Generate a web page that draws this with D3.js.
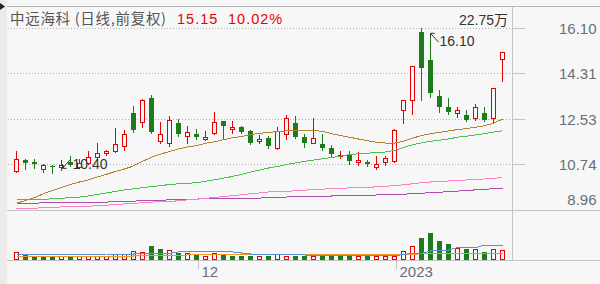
<!DOCTYPE html>
<html>
<head>
<meta charset="utf-8">
<script src="https://cdn.jsdelivr.net/npm/d3@7"></script>
<style>
  body { margin: 0; background: #f7f7f7; }
  svg { display: block; font-family: "Liberation Sans", Arial, "Noto Sans CJK SC", sans-serif; }
</style>
</head>
<body>
<svg id="chart" width="600" height="284"></svg>
<script>
// daily candles, oldest first
const openP  = [10.49,10.91,10.83,10.57,10.70,10.66,10.84,10.66,10.80,11.04,11.20,11.28,11.49,12.76,12.43,13.38,11.69,11.61,12.37,11.88,11.93,11.76,12.00,12.45,12.14,12.21,12.05,11.66,11.79,11.39,11.96,12.37,11.81,11.61,11.54,11.38,11.07,11.18,10.83,10.84,10.66,10.83,10.88,12.87,13.30,15.97,14.85,13.43,12.99,12.76,12.68,12.59,12.79,12.59,14.90];
const highP  = [11.26,10.95,10.98,10.78,10.74,10.94,11.09,10.95,11.26,11.59,11.33,12.18,12.09,13.04,13.32,13.48,12.41,12.64,12.52,12.25,12.13,12.05,12.80,12.46,12.45,12.25,12.09,11.89,11.85,12.21,12.69,12.64,11.93,12.56,11.96,11.50,11.26,11.26,11.22,10.91,11.07,11.07,12.13,13.28,14.62,16.10,15.84,13.67,13.38,13.01,12.88,13.12,12.99,13.77,15.15];
const lowP   = [10.46,10.57,10.62,10.45,10.40,10.53,10.68,10.62,10.78,10.98,11.13,11.25,11.30,12.02,12.22,11.98,11.59,11.49,11.88,11.61,11.75,11.72,11.96,11.80,12.00,11.98,11.57,11.59,11.41,11.37,11.75,11.80,11.43,11.60,11.33,11.04,11.02,10.78,10.72,10.68,10.58,10.74,10.86,12.36,12.75,13.27,13.40,12.81,12.73,12.62,12.46,12.51,12.46,12.42,14.03];
const closeP = [10.98,10.82,10.76,10.72,10.65,10.72,10.71,10.80,11.04,11.21,11.26,11.54,11.93,12.09,13.30,12.02,11.96,12.51,11.96,12.04,11.83,11.84,12.43,12.26,12.21,12.04,11.59,11.74,11.46,12.08,12.59,11.83,11.59,11.80,11.38,11.16,11.11,10.88,10.91,10.76,10.78,11.02,12.09,13.27,14.61,14.55,13.54,13.01,12.81,12.87,12.49,12.99,12.51,13.77,15.15];

// volume, in 万
const volume = [6.4,5.0,3.3,3.3,3.3,3.6,3.3,3.6,3.6,3.6,3.6,5.0,5.0,7.3,6.7,11.7,9.2,8.1,6.1,5.8,5.0,3.6,5.6,5.0,3.3,3.3,3.3,3.3,3.3,4.8,3.6,3.3,3.3,3.3,3.3,3.3,3.3,3.3,3.3,3.3,3.3,3.3,3.6,7.5,11.4,18.1,22.75,16.1,13.6,9.75,9.2,9.2,6.4,8.9,8.1];

// moving average lines
const maBrown  = [9.23,9.33,9.45,9.60,9.73,9.84,9.96,10.06,10.14,10.26,10.36,10.48,10.57,10.69,10.87,11.03,11.15,11.26,11.36,11.44,11.49,11.58,11.64,11.72,11.80,11.85,11.92,11.97,12.01,12.04,12.07,12.09,12.09,12.09,12.05,11.96,11.89,11.82,11.75,11.68,11.62,11.59,11.59,11.66,11.78,11.89,11.96,12.01,12.07,12.12,12.16,12.21,12.27,12.37,12.53];
const maGreen  = [9.36,9.36,9.37,9.38,9.40,9.42,9.45,9.47,9.51,9.57,9.63,9.69,9.75,9.79,9.84,9.88,9.92,9.96,9.99,10.01,10.03,10.09,10.15,10.21,10.28,10.36,10.45,10.53,10.61,10.67,10.75,10.81,10.87,10.92,10.97,11.02,11.08,11.14,11.17,11.19,11.22,11.24,11.30,11.42,11.52,11.60,11.66,11.70,11.75,11.82,11.86,11.91,11.96,12.02,12.07];
const maPink   = [9.00,9.02,9.03,9.05,9.06,9.08,9.09,9.10,9.11,9.13,9.15,9.17,9.20,9.22,9.25,9.27,9.29,9.30,9.32,9.36,9.38,9.42,9.45,9.49,9.52,9.56,9.60,9.63,9.67,9.68,9.70,9.71,9.74,9.76,9.78,9.80,9.81,9.83,9.84,9.85,9.87,9.89,9.92,9.95,9.99,10.03,10.06,10.09,10.10,10.12,10.14,10.16,10.18,10.21,10.23];
const maPurple = [9.23,9.23,9.23,9.24,9.24,9.25,9.25,9.25,9.26,9.27,9.27,9.29,9.30,9.31,9.32,9.33,9.34,9.36,9.37,9.38,9.39,9.40,9.40,9.40,9.41,9.42,9.42,9.43,9.44,9.45,9.47,9.48,9.49,9.50,9.51,9.51,9.52,9.53,9.53,9.54,9.55,9.55,9.56,9.58,9.60,9.62,9.64,9.66,9.68,9.70,9.73,9.75,9.77,9.80,9.82];
const volMaBlue   = [4.17,4.17,4.17,4.17,4.17,4.17,4.17,4.17,4.17,4.17,5.0,5.0,5.0,5.0,5.58,5.58,5.58,5.58,6.67,6.67,6.67,6.67,6.67,6.67,6.67,5.83,5.0,5.0,4.17,4.17,4.17,4.17,4.17,3.58,3.58,3.58,3.58,3.58,3.58,3.58,3.58,3.58,3.58,4.58,5.58,5.58,7.5,8.33,8.33,10.25,10.25,10.25,12.5,12.5,12.5];
const volMaOrange = [3.33,3.33,3.33,3.33,3.33,3.33,3.33,3.33,3.33,3.33,3.33,3.33,3.33,3.33,3.58,3.58,3.58,3.58,3.58,4.17,4.17,4.17,4.17,4.17,4.17,4.17,4.17,4.17,4.17,4.17,4.17,4.17,4.17,4.17,4.17,4.17,4.17,4.17,4.17,4.17,4.17,4.17,4.17,4.17,4.17,5.58,5.58,5.58,5.58,5.58,5.58,5.58,5.58,5.58,5.58];

const priceTicks = [16.10, 14.31, 12.53, 10.74, 8.96];
const dateTickIndex = [20, 42];
const dateTickLabels = ["12", "2023"];

const stockName = "中远海科 (日线,前复权)";

const RED = "#e60000", GREEN = "#1d7a1d", BG = "#f7f7f7", LINE = "#c4c4c4";

const svg = d3.select("#chart");
const n = closeP.length;

svg.append("rect").attr("width", 600).attr("height", 284).attr("fill", BG);
svg.append("rect").attr("width", 7).attr("height", 284).attr("fill", "#ebebeb");
svg.append("path").attr("d", "M0,3L5,6.5L0,10Z").attr("fill", "#222");

// scales
const x = d3.scaleBand().domain(d3.range(n)).range([12, 507]);
const cx = i => x(i) + x.bandwidth() / 2;
const y = d3.scaleLinear().domain([8.96, 16.10]).range([210, 28.3]);
const yv = d3.scaleLinear().domain([0, d3.max(volume)]).range([260, 232.7]);
const px = v => Math.floor(v) + 0.5;

// frame lines
const frame = svg.append("g").attr("stroke", LINE).attr("shape-rendering", "crispEdges");
frame.append("line").attr("x1", 7).attr("x2", 600).attr("y1", 6.5).attr("y2", 6.5).attr("stroke", "#b5b5b5");
frame.append("line").attr("x1", 7).attr("x2", 600).attr("y1", 210.5).attr("y2", 210.5);
frame.append("line").attr("x1", 7).attr("x2", 600).attr("y1", 260.5).attr("y2", 260.5);
frame.append("line").attr("x1", 512.5).attr("x2", 512.5).attr("y1", 6).attr("y2", 260);

// dotted gridlines
svg.append("g").selectAll("line")
  .data(priceTicks.filter(t => t > 8.96))
  .join("line")
  .attr("x1", 8).attr("x2", 512)
  .attr("y1", d => px(y(d))).attr("y2", d => px(y(d)))
  .attr("stroke", "#b0b0b0").attr("stroke-dasharray", "1,2")
  .attr("shape-rendering", "crispEdges");

// price axis on the right
const yAxis = svg.append("g")
  .attr("transform", "translate(512.5,0)")
  .call(d3.axisRight(y).tickValues(priceTicks).tickSize(12).tickFormat(d3.format(".2f")));
yAxis.select(".domain").remove();
yAxis.selectAll(".tick").attr("transform", d => `translate(0,${px(y(d))})`);
yAxis.selectAll(".tick line").attr("stroke", LINE).attr("shape-rendering", "crispEdges")
  .filter(d => d === 8.96).remove();
yAxis.selectAll(".tick text")
  .attr("x", 84).attr("text-anchor", "end")
  .attr("dy", d => d === 8.96 ? "-0.35em" : "0.35em")
  .attr("fill", "#66707a").attr("font-size", 15);

// date axis under the volume panel
const xAxis = svg.append("g")
  .attr("transform", "translate(2,260.5)")
  .call(d3.axisBottom(x).tickValues(dateTickIndex).tickSize(8)
    .tickFormat(d => dateTickLabels[dateTickIndex.indexOf(d)]));
xAxis.select(".domain").remove();
xAxis.selectAll(".tick line").attr("stroke", LINE).attr("shape-rendering", "crispEdges");
xAxis.selectAll(".tick text")
  .attr("x", 3).attr("y", 16).attr("dy", 0).attr("text-anchor", "start")
  .attr("fill", "#66707a").attr("font-size", 15);

// candles
const candles = svg.append("g").attr("shape-rendering", "crispEdges");
const idx = d3.range(n);
const up = i => closeP[i] >= openP[i];

candles.selectAll("line.wick").data(idx).join("line")
  .attr("class", "wick")
  .attr("x1", i => cx(i)).attr("x2", i => cx(i))
  .attr("y1", i => Math.round(y(highP[i]))).attr("y2", i => Math.round(y(lowP[i])) + 1)
  .attr("stroke", i => up(i) ? RED : GREEN);

candles.selectAll("rect.body").data(idx).join("rect")
  .attr("class", "body")
  .each(function (i) {
    const top = Math.round(y(Math.max(openP[i], closeP[i])));
    const bot = Math.round(y(Math.min(openP[i], closeP[i])));
    const r = d3.select(this);
    if (up(i)) {
      r.attr("x", cx(i) - 2).attr("y", top + 0.5).attr("width", 4)
        .attr("height", Math.max(bot - top, 1)).attr("fill", BG).attr("stroke", RED);
    } else {
      r.attr("x", cx(i) - 2.5).attr("y", top).attr("width", 5)
        .attr("height", Math.max(bot - top, 1)).attr("fill", GREEN);
    }
  });

// moving averages
const line = d3.line().x((d, i) => cx(i)).y(d => y(d));
[[maPurple, "#b04fb0"], [maPink, "#ff7fc2"], [maGreen, "#47c447"], [maBrown, "#b3832e"]]
  .forEach(([data, color]) => {
    svg.append("path").datum(data).attr("d", line)
      .attr("fill", "none").attr("stroke", color).attr("stroke-width", 1)
      .attr("shape-rendering", "crispEdges");
  });

// volume bars, coloured by close against the previous close
const volUp = i => i === 0 ? closeP[0] >= openP[0] : closeP[i] >= closeP[i - 1];
svg.append("g").attr("shape-rendering", "crispEdges")
  .selectAll("rect").data(idx).join("rect")
  .each(function (i) {
    const top = Math.round(yv(volume[i]));
    const r = d3.select(this);
    if (volUp(i)) {
      r.attr("x", cx(i) - 2).attr("y", top + 0.5).attr("width", 4)
        .attr("height", Math.max(260 - top - 1, 1)).attr("fill", BG).attr("stroke", RED);
    } else {
      r.attr("x", cx(i) - 2.5).attr("y", top).attr("width", 5)
        .attr("height", 260 - top).attr("fill", GREEN);
    }
  });

const vline = d3.line().x((d, i) => cx(i)).y(d => yv(d));
[[volMaOrange, "#f3962a"], [volMaBlue, "#5b8fd8"]].forEach(([data, color]) => {
  svg.append("path").datum(data).attr("d", vline)
    .attr("fill", "none").attr("stroke", color).attr("shape-rendering", "crispEdges");
});

// max / min annotations
const iMax = d3.maxIndex(highP), iMin = d3.minIndex(lowP);
const ann = svg.append("g").attr("fill", "#333").attr("font-size", 14);
{
  const ax = cx(iMax) + 9, ay = y(highP[iMax]) + 5;
  ann.append("path").attr("d", `M${ax},${ay}L${ax + 8},${ay + 9}M${ax},${ay}h4M${ax},${ay}v4`)
    .attr("stroke", "#333").attr("fill", "none");
  ann.append("text").attr("x", ax + 9).attr("y", ay + 13).text(d3.format(".2f")(highP[iMax]));
}
{
  const ax = cx(iMin) + 10, ay = y(lowP[iMin]) - 5;
  ann.append("path").attr("d", `M${ax},${ay}L${ax + 8},${ay - 9}M${ax},${ay}h4M${ax},${ay}v-4`)
    .attr("stroke", "#333").attr("fill", "none");
  ann.append("text").attr("x", ax + 10).attr("y", ay + 1).text(d3.format(".2f")(lowP[iMin]));
}

// header
const last = closeP[n - 1], prev = closeP[n - 2];
const head = svg.append("g").attr("font-size", 14.5).attr("letter-spacing", 1);
head.append("text").attr("x", 10).attr("y", 24).attr("fill", "#555")
  .attr("font-family", "'Noto Sans CJK SC', sans-serif").attr("letter-spacing", 0.7).text(stockName);
head.append("text").attr("x", 177).attr("y", 24).attr("fill", RED).text(d3.format(".2f")(last));
head.append("text").attr("x", 228).attr("y", 24).attr("fill", RED)
  .text(d3.format(".2f")((last / prev - 1) * 100) + "%");
svg.append("text").attr("x", 508).attr("y", 25).attr("text-anchor", "end")
  .attr("fill", "#333").attr("font-size", 14)
  .text(d3.format(".2f")(d3.max(volume)) + "万");
</script>
</body>
</html>
